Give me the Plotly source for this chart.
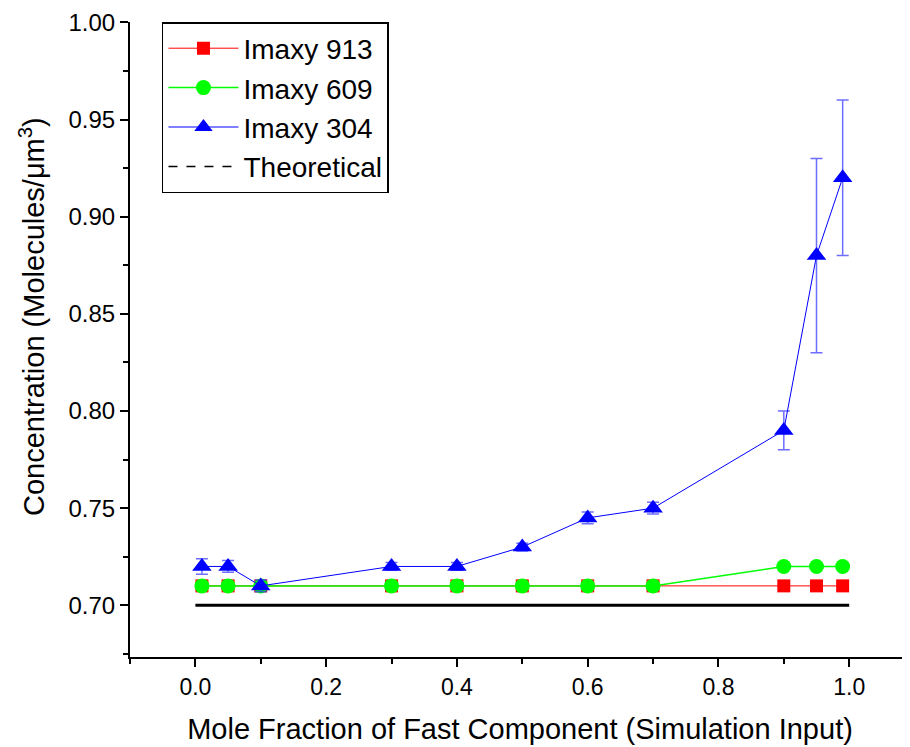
import plotly.graph_objects as go

x = [0.01, 0.05, 0.1, 0.3, 0.4, 0.5, 0.6, 0.7, 0.9, 0.95, 0.99]
imaxy913 = [0.71, 0.71, 0.71, 0.71, 0.71, 0.71, 0.71, 0.71, 0.71, 0.71, 0.71]
imaxy609 = [0.71, 0.71, 0.71, 0.71, 0.71, 0.71, 0.71, 0.71, 0.72, 0.72, 0.72]
imaxy304 = [0.72, 0.72, 0.71, 0.72, 0.72, 0.73, 0.745, 0.75, 0.79, 0.88, 0.92]
err304 = [0.004, 0.003, 0.003, 0.002, 0.002, 0.002, 0.003, 0.003, 0.01, 0.05, 0.04]
theo_x = [0.0, 1.0]
theo_y = [0.70, 0.70]

FONT = "Liberation Sans, Arial, sans-serif"

fig = go.Figure()

fig.add_trace(go.Scatter(
    x=x, y=imaxy913, mode="lines+markers", name="Imaxy 913",
    line=dict(color="#FF0000", width=1),
    marker=dict(symbol="square", size=13, color="#FF0000"),
))
fig.add_trace(go.Scatter(
    x=x, y=imaxy609, mode="lines+markers", name="Imaxy 609",
    line=dict(color="#00FF00", width=1.5),
    marker=dict(symbol="circle", size=15, color="#00FF00"),
))
fig.add_trace(go.Scatter(
    x=x, y=imaxy304, mode="lines+markers", name="Imaxy 304",
    line=dict(color="#0000FF", width=1),
    marker=dict(symbol="triangle-up", size=17, color="#0000FF"),
    error_y=dict(type="data", array=err304, visible=True,
                 color="rgba(60,60,255,0.75)", thickness=1.5, width=6),
))
# Theoretical line drawn solid in the plot
fig.add_trace(go.Scatter(
    x=theo_x, y=theo_y, mode="lines", name="Theoretical",
    line=dict(color="black", width=3), showlegend=False,
))
# Legend entry (dashed, as in the reference legend)
fig.add_trace(go.Scatter(
    x=[None], y=[None], mode="lines", name="Theoretical",
    line=dict(color="black", width=1.5, dash="dash"),
))

axis_common = dict(
    showline=True, linecolor="black", linewidth=2,
    ticks="outside", tickcolor="black", tickwidth=2, ticklen=8,
    showgrid=False, zeroline=False, mirror=False,
    ticklabeloverflow="allow",
)

fig.update_layout(
    width=902, height=739,
    paper_bgcolor="white", plot_bgcolor="white",
    margin=dict(l=122, r=0, t=14, b=90),
    font=dict(family=FONT, color="black"),
    showlegend=True,
    legend=dict(
        x=0.041, y=1.0, xanchor="left", yanchor="top",
        bgcolor="white", bordercolor="black", borderwidth=1.5,
        font=dict(family=FONT, size=28, color="black"),
        itemwidth=70, tracegroupgap=0,
    ),
    xaxis=dict(
        range=[-0.1, 1.093], tick0=0, dtick=0.2, tickformat=".1f",
        tickfont=dict(family=FONT, size=23, color="black"),
        minor=dict(dtick=0.1, tick0=0, ticks="outside", ticklen=5,
                   tickcolor="black", tickwidth=2),
        title=dict(text="Mole Fraction of Fast Component (Simulation Input)",
                   font=dict(family=FONT, size=29, color="black"), standoff=20),
        automargin=False,
        **axis_common,
    ),
    yaxis=dict(
        range=[0.6734, 1.0002], tick0=0.7, dtick=0.05, tickformat=".2f",
        tickfont=dict(family=FONT, size=24, color="black"),
        minor=dict(dtick=0.025, tick0=0.7, ticks="outside", ticklen=5,
                   tickcolor="black", tickwidth=2),
        automargin=False,
        **axis_common,
    ),
    annotations=[dict(
        text="Concentration (Molecules/\u03bcm<sup>3</sup>)",
        xref="paper", yref="paper", x=-(130 - 32) / 780, y=(657 - 317) / 635,
        xanchor="center", yanchor="middle", textangle=-90, showarrow=False,
        font=dict(family=FONT, size=29, color="black"),
    )],
)

fig.write_html("out.html")
